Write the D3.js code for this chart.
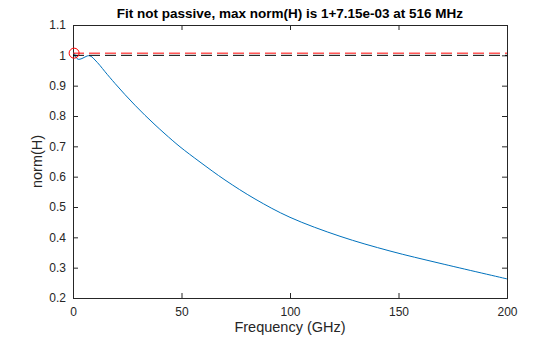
<!DOCTYPE html>
<html>
<head>
<meta charset="utf-8">
<script src="https://cdn.jsdelivr.net/npm/d3@7"></script>
<style>
  html, body { margin: 0; padding: 0; background: #fff; }
  svg { display: block; font-family: "Liberation Sans", Arial, sans-serif; }
</style>
</head>
<body>
<svg id="chart" width="560" height="337"></svg>
<script>
// Frequency samples (GHz) and the fitted norm(H) at each
const freqGHz = [0, 0.516, 1.38, 2.44, 4.15, 5.99, 7.05, 8.29, 10.14, 12.44, 14.75, 19.35, 23.96, 28.57, 33.18, 37.79, 42.4, 49.31, 58.53, 70.05, 83.87, 100, 123.04, 146.08, 169.12, 200];
const normH   = [1.006, 1.00715, 0.9929, 0.9869, 0.9896, 0.9962, 0.9988, 0.9968, 0.9846, 0.9665, 0.946, 0.9074, 0.8705, 0.8355, 0.8023, 0.771, 0.741, 0.6985, 0.6483, 0.589, 0.5265, 0.466, 0.4035, 0.3549, 0.3144, 0.263];

// Peak of the fit and the passivity limit
const peakFreqGHz = 0.516;
const peakNorm = 1 + 7.15e-3;
const passiveLimit = 1;

const xTicks = [0, 50, 100, 150, 200];
const yTicks = [0.2, 0.3, 0.4, 0.5, 0.6, 0.7, 0.8, 0.9, 1, 1.1];
const titleText = "Fit not passive, max norm(H) is 1+7.15e-03 at 516 MHz";
const xLabelText = "Frequency (GHz)";
const yLabelText = "norm(H)";

const svg = d3.select("#chart");
const plotL = 73, plotR = 507, plotT = 25, plotB = 298;
const axisColor = "#262626";

const x = d3.scaleLinear().domain([0, 200]).range([plotL, plotR]);
const y = d3.scaleLinear().domain([0.2, 1.1]).range([plotB, plotT]);

const tickLen = 5;

// Axes: ticks point inward, on all four sides
const gx = svg.append("g").attr("transform", `translate(0,${plotB})`)
  .call(d3.axisBottom(x).tickValues(xTicks).tickSize(-tickLen).tickPadding(9).tickFormat(d3.format("d")));
const gxt = svg.append("g").attr("transform", `translate(0,${plotT})`)
  .call(d3.axisTop(x).tickValues(xTicks).tickSize(-tickLen).tickFormat(""));
const gy = svg.append("g").attr("transform", `translate(${plotL},0)`)
  .call(d3.axisLeft(y).tickValues(yTicks).tickSize(-tickLen).tickPadding(7).tickFormat(d => String(+d.toFixed(1))));
const gyr = svg.append("g").attr("transform", `translate(${plotR},0)`)
  .call(d3.axisRight(y).tickValues(yTicks).tickSize(-tickLen).tickFormat(""));

[gx, gxt, gy, gyr].forEach(g => {
  g.select(".domain").attr("stroke", axisColor).attr("stroke-width", 1);
  g.selectAll(".tick line").attr("stroke", axisColor);
  g.selectAll("text").attr("fill", axisColor).style("font-size", "12px")
    .style("font-family", "'Liberation Sans', Arial, sans-serif");
});

// Fitted norm curve
const line = d3.line().x((d, i) => x(freqGHz[i])).y(d => y(d)).curve(d3.curveCatmullRom.alpha(0.5));
svg.append("path").datum(normH)
  .attr("fill", "none").attr("stroke", "#0072BD").attr("stroke-width", 1)
  .attr("d", line);

// Passivity limit (black) and peak level (red), dashed
svg.append("line")
  .attr("x1", x(0)).attr("x2", x(200)).attr("y1", y(passiveLimit)).attr("y2", y(passiveLimit))
  .attr("stroke", "#000").attr("stroke-width", 1).attr("stroke-dasharray", "11,5");
svg.append("line")
  .attr("x1", x(0)).attr("x2", x(200)).attr("y1", y(peakNorm)).attr("y2", y(peakNorm))
  .attr("stroke", "#ff0000").attr("stroke-width", 1).attr("stroke-dasharray", "11,5");

// Marker at the peak
svg.append("circle")
  .attr("cx", x(peakFreqGHz)).attr("cy", y(peakNorm)).attr("r", 5)
  .attr("fill", "none").attr("stroke", "#ff0000").attr("stroke-width", 1);

// Title and axis labels
svg.append("text").attr("x", (plotL + plotR) / 2).attr("y", 18)
  .attr("text-anchor", "middle").attr("font-weight", "bold").attr("font-size", "13.5px")
  .attr("fill", "#000").text(titleText);
svg.append("text").attr("x", (plotL + plotR) / 2).attr("y", 332)
  .attr("text-anchor", "middle").attr("font-size", "14.5px").attr("fill", axisColor).text(xLabelText);
svg.append("text").attr("transform", `translate(42,${(plotT + plotB) / 2}) rotate(-90)`)
  .attr("text-anchor", "middle").attr("font-size", "14.5px").attr("fill", axisColor).text(yLabelText);
</script>
</body>
</html>
